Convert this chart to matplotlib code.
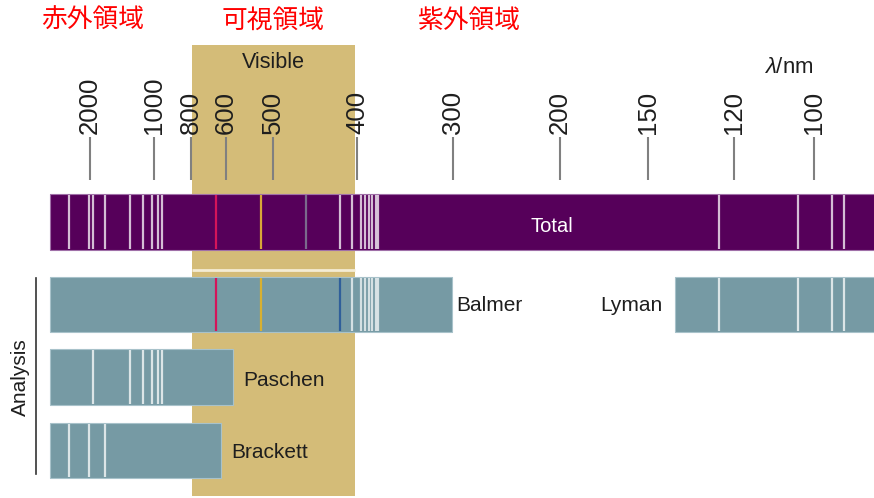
import numpy as np
import matplotlib
matplotlib.use("Agg")
import matplotlib.pyplot as plt

plt.rcParams['font.family'] = ['Liberation Sans', 'Noto Sans CJK JP', 'DejaVu Sans']
plt.rcParams['mathtext.fontset'] = 'custom'
plt.rcParams['mathtext.it'] = 'Liberation Sans:italic'
plt.rcParams['mathtext.rm'] = 'Liberation Sans'

# ---------------- data (wavelengths in nm) ----------------
tick_nm = [2000, 1000, 800, 600, 500, 400, 300, 200, 150, 120, 100]
region_labels = ['赤外領域', '可視領域', '紫外領域']
visible_nm = (790, 402)
spectrum_long_end_nm = 3080

brackett_range_nm = (spectrum_long_end_nm, 627)
brackett_lines_nm = [2500, 2020, 1700]

paschen_range_nm = (spectrum_long_end_nm, 583)
paschen_lines_nm = [1930, 1300, 1126, 1028, 976, 952]

balmer_range_nm = (spectrum_long_end_nm, 301)
balmer_lines_nm = [651, 524, 419, 405.4, 396, 390.9, 385.9, 382.4, 378.5, 375.6]

lyman_range_nm = (140, 80)
lyman_lines_nm = [124.7, 103.8, 96.0, 93.3]

total_range_nm = (spectrum_long_end_nm, 80)
total_extra_lines_nm = [458]   # faint line seen only in the Total strip

# ---------------- scale (schematic, piecewise in log wavelength) -------------
tick_px = np.array([90, 154.3, 190.7, 226, 272.7, 357.3, 453.3, 560, 648.3, 734, 814])
W, H = 874, 498
lx = -np.log(np.array(tick_nm, float))


def _interp_ext(t, xs, ys):
    t = np.atleast_1d(np.asarray(t, float))
    out = np.interp(t, xs, ys)
    lo = t < xs[0]
    hi = t > xs[-1]
    out[lo] = ys[0] + (t[lo] - xs[0]) * (ys[1] - ys[0]) / (xs[1] - xs[0])
    out[hi] = ys[-1] + (t[hi] - xs[-1]) * (ys[-1] - ys[-2]) / (xs[-1] - xs[-2])
    return out


def px_of(lam):
    a = np.asarray(lam, float)
    res = _interp_ext(-np.log(np.clip(a, 1e-3, None)).ravel(), lx, tick_px)
    return res.reshape(a.shape)


def lam_of(px):
    a = np.asarray(px, float)
    res = np.exp(-_interp_ext(a.ravel(), tick_px, lx))
    return res.reshape(a.shape)


def fwd(lam):          # increasing in wavelength
    return -px_of(lam)


def inv(g):
    return lam_of(-np.asarray(g, float))


fig = plt.figure(figsize=(W / 100, H / 100), dpi=100)
ax = fig.add_axes([0, 0, 1, 1])
ax.set_xscale('function', functions=(fwd, inv))
ax.set_xlim(float(lam_of(0.0)), float(lam_of(float(W))))
ax.set_ylim(H, 0)
ax.axis('off')
ytr = ax.get_yaxis_transform()   # x in axes fraction, y in data (pixel rows)


def xf(px):
    return px / W


PURPLE = '#56005a'
STEEL = '#769aa4'
TAN = '#d4bc78'
TXT = '#1e1e1e'

# visible band
ax.fill_betweenx([45, 496], visible_nm[0], visible_nm[1], color=TAN, lw=0, zorder=0)
ax.hlines(270, visible_nm[0], visible_nm[1], color='#f4ecd4', lw=2, zorder=1)
ax.text(xf(273), 62, 'Visible', transform=ytr, ha='center', va='center',
        fontsize=15.5, color=TXT)

# region labels
for lab, x in zip(region_labels, [93, 273, 469]):
    ax.text(xf(x), 21, lab, transform=ytr, ha='center', va='center', fontsize=18.5,
            color='#ff0000', family=['Noto Sans CJK JP'])

# ticks
ax.vlines(tick_nm, 137, 180, color='#808080', lw=1.5, zorder=2)
for t in tick_nm:
    ax.text(t, 134, str(t), rotation=90, ha='center', va='bottom', fontsize=18.5, color=TXT)
ax.text(xf(789), 67, r'$\lambda$/nm', transform=ytr, ha='center', va='center',
        fontsize=16, color=TXT)


def strip(rng, y0, y1, color, edge):
    ax.fill_betweenx([y0, y1], rng[0], rng[1], facecolor=color, edgecolor=edge,
                     lw=0.8, zorder=3)


# Total
strip(total_range_nm, 194, 250, PURPLE, '#a070a8')
all_lines = brackett_lines_nm + paschen_lines_nm + balmer_lines_nm + lyman_lines_nm
special = {651: '#d4145a', 524: '#d8a838', 458: '#7a6a8c'}
for l in all_lines + total_extra_lines_nm:
    c = special.get(l, 'white')
    a = 1.0 if l in special else 0.75
    ax.vlines(l, 195, 249, color=c, lw=1.6, alpha=a, zorder=4)
ax.text(xf(551.5), 226, 'Total', transform=ytr, ha='center', va='center',
        fontsize=14.5, color='white', zorder=5)

# Balmer
strip(balmer_range_nm, 277, 332, STEEL, '#a8c2ca')
bal_col = {651: '#d4145a', 524: '#d8b030', 419: '#2f5f9a'}
for l in balmer_lines_nm:
    ax.vlines(l, 278, 331, color=bal_col.get(l, 'white'), lw=1.6,
              alpha=1.0 if l in bal_col else 0.7, zorder=4)
ax.text(xf(456), 305, 'Balmer', transform=ytr, ha='left', va='center', fontsize=15, color=TXT)

# Lyman
strip(lyman_range_nm, 277, 332, STEEL, '#a8c2ca')
for l in lyman_lines_nm:
    ax.vlines(l, 278, 331, color='white', lw=1.6, alpha=0.75, zorder=4)
ax.text(xf(663), 305, 'Lyman', transform=ytr, ha='right', va='center', fontsize=15, color=TXT)

# Paschen
strip(paschen_range_nm, 349, 405, STEEL, '#a8c2ca')
for l in paschen_lines_nm:
    ax.vlines(l, 350, 404, color='white', lw=1.6, alpha=0.75, zorder=4)
ax.text(xf(243), 380, 'Paschen', transform=ytr, ha='left', va='center', fontsize=15, color=TXT)

# Brackett
strip(brackett_range_nm, 423, 478, STEEL, '#a8c2ca')
for l in brackett_lines_nm:
    ax.vlines(l, 424, 477, color='white', lw=1.6, alpha=0.75, zorder=4)
ax.text(xf(231), 452, 'Brackett', transform=ytr, ha='left', va='center', fontsize=15, color=TXT)

# Analysis bracket
ax.plot([xf(36), xf(36)], [278, 474], transform=ytr, color='#333333', lw=1.2)
ax.text(xf(20), 377, 'Analysis', transform=ytr, rotation=90, ha='center', va='center',
        fontsize=15, color=TXT)

fig.savefig('out.png', dpi=100, facecolor='white')
